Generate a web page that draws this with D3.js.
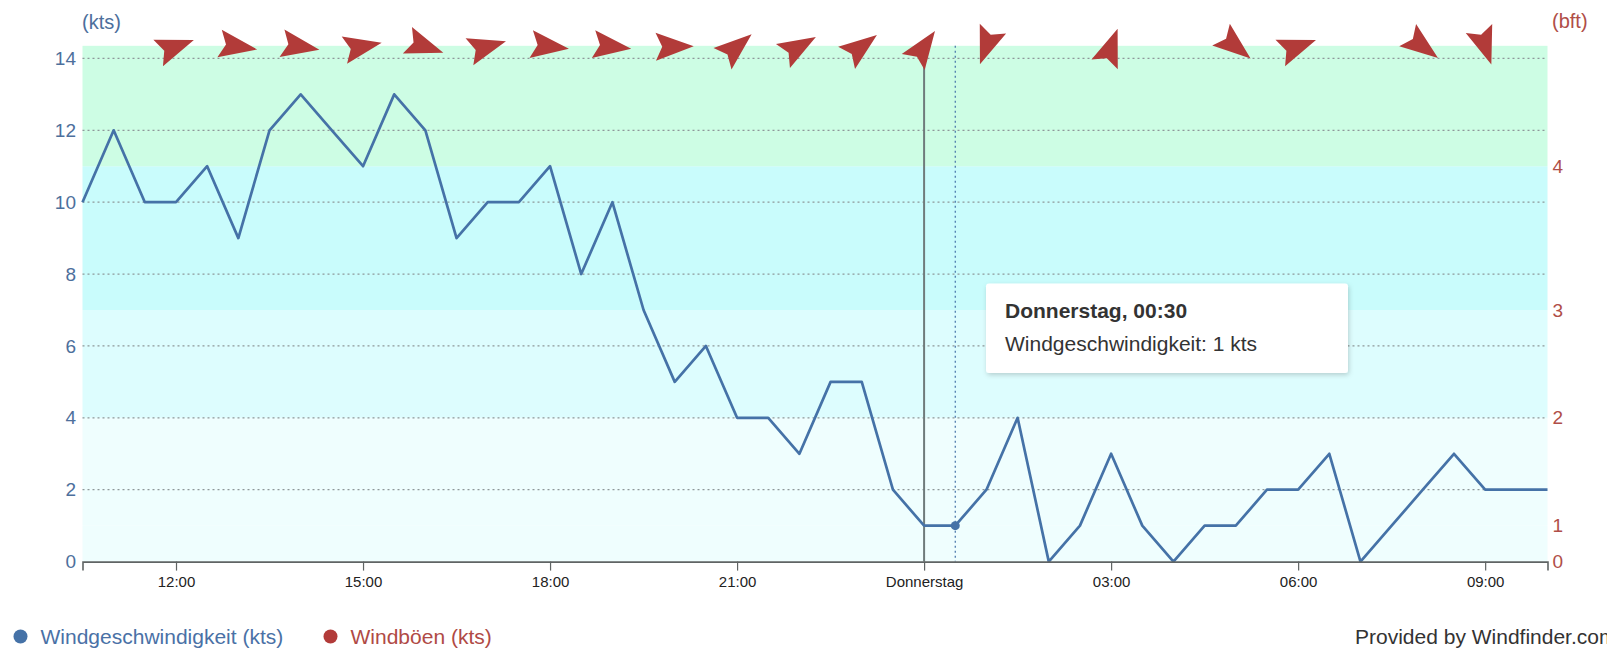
<!DOCTYPE html>
<html>
<head>
<meta charset="utf-8">
<script src="https://cdn.jsdelivr.net/npm/d3@7/dist/d3.min.js"></script>
<style>
  html, body { margin: 0; padding: 0; background: #ffffff; overflow: hidden; }
  svg { display: block; font-family: "Liberation Sans", Arial, sans-serif; }
</style>
</head>
<body>
<svg id="chart" width="1607" height="651"></svg>
<script>
// ---------- data ----------
const speedTimes = ["10:30","11:00","11:30","12:00","12:30","13:00","13:30","14:00","14:30","15:00",
  "15:30","16:00","16:30","17:00","17:30","18:00","18:30","19:00","19:30","20:00","20:30","21:00",
  "21:30","22:00","22:30","23:00","23:30","00:00","00:30","01:00","01:30","02:00","02:30","03:00",
  "03:30","04:00","04:30","05:00","05:30","06:00","06:30","07:00","07:30","08:00","08:30","09:00",
  "09:30","10:00"];
const speedKts = [10,12,10,10,11,9,12,13,12,11,13,12,9,10,10,11,8,10,7,5,6,4,4,3,5,5,2,
  1,1,2,4,0,1,3,1,0,1,1,2,2,3,0,1,2,3,2,2,2];

const arrowTimes = ["12:00","13:00","14:00","15:00","16:00","17:00","18:00","19:00","20:00","21:00",
  "22:00","23:00","00:00","01:00","02:00","03:00","04:00","05:00","06:00","07:00","08:00","09:00"];
// direction the arrow points (degrees clockwise from up); null = calm, no arrow
const arrowDirs = [70,99,100,79,109,74,97,97,89,50,60,53,35,200,null,20,null,129,70,null,127,161];

const xTickTimes = ["12:00","15:00","18:00","21:00","00:00","03:00","06:00","09:00"];
const xTickLabels = ["12:00","15:00","18:00","21:00","Donnerstag","03:00","06:00","09:00"];

const ktsTicks = [0,2,4,6,8,10,12,14];
const bftTickKts = [0,1,4,7,11];
const bftTickLabels = ["0","1","2","3","4"];

const bandFrom = [0,1,4,7,11];
const bandTo   = [1,4,7,11,14.35];
const bandColors = ["#effefe","#effefe","#ddfdfe","#c9fcfc","#cdfde4"];

const nowTime = "00:00";
const hoverTime = "00:30";
const hoverValue = 1;
const tooltipTitle = "Donnerstag, 00:30";
const tooltipText = "Windgeschwindigkeit: 1 kts";
const legendNames = ["Windgeschwindigkeit (kts)","Windböen (kts)"];
const creditText = "Provided by Windfinder.com";

// ---------- helpers ----------
function toHours(list) {
  let offset = 0, prev = -1;
  return list.map(s => {
    const [h, m] = s.split(":").map(Number);
    let v = h + m / 60;
    if (v < prev) offset += 24;
    prev = v;
    return v + offset;
  });
}
const startH = 10.5;
function hourOf(s) { // relative to Wednesday 00:00, times before 10:30 belong to Thursday
  const [h, m] = s.split(":").map(Number);
  let v = h + m / 60;
  if (v < startH) v += 24;
  return v;
}
const speedH = toHours(speedTimes);

// ---------- layout ----------
const svg = d3.select("#chart");
const L = 82.5, R = 1547.5, B = 561.6;
const blue = "#4572a7", red = "#b23b39";

const x = d3.scaleLinear().domain([speedH[0], speedH[speedH.length - 1]]).range([L, R]);
const y = d3.scaleLinear().domain([0, 14]).range([B, 58.4]);

// bands
svg.append("g").selectAll("rect").data(bandFrom).join("rect")
  .attr("x", L).attr("width", R - L)
  .attr("y", (d, i) => y(bandTo[i]))
  .attr("height", (d, i) => y(d) - y(bandTo[i]))
  .attr("fill", (d, i) => bandColors[i]);

// grid
svg.append("g").selectAll("line").data(ktsTicks.filter(v => v > 0)).join("line")
  .attr("x1", L).attr("x2", R)
  .attr("y1", d => y(d)).attr("y2", d => y(d))
  .attr("stroke", "#8e9799").attr("stroke-width", 1.2).attr("stroke-dasharray", "2,3");

// now line and crosshair
svg.append("line")
  .attr("x1", x(hourOf(nowTime))).attr("x2", x(hourOf(nowTime)))
  .attr("y1", y(14.35)).attr("y2", B)
  .attr("stroke", "#6f7b7b").attr("stroke-width", 2);
svg.append("line")
  .attr("x1", x(hourOf(hoverTime))).attr("x2", x(hourOf(hoverTime)))
  .attr("y1", y(14.35)).attr("y2", B)
  .attr("stroke", blue).attr("stroke-width", 1.2).attr("stroke-dasharray", "2,3");

// series line
const line = d3.line().x((d, i) => x(speedH[i])).y(d => y(d));
svg.append("path").datum(speedKts)
  .attr("d", line).attr("fill", "none")
  .attr("stroke", blue).attr("stroke-width", 2.7).attr("stroke-linejoin", "round");
svg.append("circle")
  .attr("cx", x(hourOf(hoverTime))).attr("cy", y(hoverValue)).attr("r", 4.5)
  .attr("fill", blue);

// x axis
const xAxis = d3.axisBottom(x)
  .tickValues(xTickTimes.map(hourOf))
  .tickFormat((d, i) => xTickLabels[i])
  .tickSize(9).tickSizeOuter(9).tickPadding(6);
const gx = svg.append("g").attr("transform", `translate(0,${B})`).call(xAxis);
gx.select(".domain").attr("stroke", "#5f6464").attr("stroke-width", 1.6);
gx.selectAll(".tick line").attr("stroke", "#5f6464").attr("stroke-width", 1.2);
gx.selectAll(".tick text").attr("fill", "#222").style("font-size", "15px")
  .style("font-family", "'Liberation Sans', Arial, sans-serif");

// left axis
const yAxis = d3.axisLeft(y).tickValues(ktsTicks).tickSize(0).tickPadding(6);
const gy = svg.append("g").attr("transform", `translate(${L - 0.5},0)`).call(yAxis);
gy.select(".domain").remove();
gy.selectAll(".tick text").attr("fill", "#4d6f9c").style("font-size", "19px")
  .style("font-family", "'Liberation Sans', Arial, sans-serif");

// right axis (bft)
const yAxisR = d3.axisRight(y).tickValues(bftTickKts)
  .tickFormat((d, i) => bftTickLabels[i]).tickSize(0).tickPadding(5);
const gyr = svg.append("g").attr("transform", `translate(${R},0)`).call(yAxisR);
gyr.select(".domain").remove();
gyr.selectAll(".tick text").attr("fill", "#b04e48").style("font-size", "19px")
  .style("font-family", "'Liberation Sans', Arial, sans-serif");

// axis titles
svg.append("text").attr("x", 82).attr("y", 29).text("(kts)")
  .attr("fill", "#4d6f9c").style("font-size", "20px");
svg.append("text").attr("x", 1552).attr("y", 28).text("(bft)")
  .attr("fill", "#b04e48").style("font-size", "20px");

// wind direction arrows
const arrowShape = "M0,-19 L14,19 L0,12.5 L-14,19 Z";
const arrowData = arrowTimes.map((t, i) => ({ h: hourOf(t), dir: arrowDirs[i] }))
  .filter(d => d.dir !== null);
svg.append("g").selectAll("path").data(arrowData).join("path")
  .attr("d", arrowShape)
  .attr("transform", d => `translate(${x(d.h)},46.5) rotate(${d.dir})`)
  .attr("fill", red);

// tooltip
const defs = svg.append("defs");
const f = defs.append("filter").attr("id", "shadow").attr("x", "-10%").attr("y", "-20%")
  .attr("width", "130%").attr("height", "150%");
f.append("feDropShadow").attr("dx", 1).attr("dy", 2).attr("stdDeviation", 2.5)
  .attr("flood-color", "#000").attr("flood-opacity", 0.18);
const tt = svg.append("g");
tt.append("rect").attr("x", 986).attr("y", 283.5).attr("width", 362).attr("height", 89.5)
  .attr("rx", 3).attr("fill", "#ffffff").attr("filter", "url(#shadow)");
tt.append("text").attr("x", 1005).attr("y", 318).text(tooltipTitle)
  .attr("fill", "#333").style("font-size", "21px").style("font-weight", "bold");
tt.append("text").attr("x", 1005).attr("y", 351).text(tooltipText)
  .attr("fill", "#333").style("font-size", "21px");

// legend
const legendColors = [blue, red];
const legendTextColors = ["#4a71a6", "#b04a45"];
const legendX = [20.5, 330.5];
const lg = svg.append("g").selectAll("g").data(legendNames).join("g")
  .attr("transform", (d, i) => `translate(${legendX[i]},636.5)`);
lg.append("circle").attr("r", 7).attr("fill", (d, i) => legendColors[i]);
lg.append("text").attr("x", 20).attr("y", 7.5).text(d => d)
  .attr("fill", (d, i) => legendTextColors[i]).style("font-size", "21px");

// credit (clipped by the right edge, as in the reference)
svg.append("text").attr("x", 1355).attr("y", 644).text(creditText)
  .attr("fill", "#333").style("font-size", "21px");
</script>
</body>
</html>
